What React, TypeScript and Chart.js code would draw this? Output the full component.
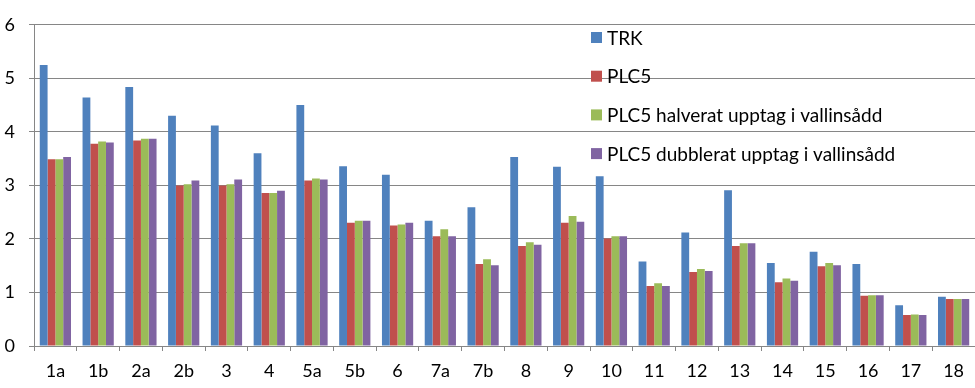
import React, { useEffect, useRef } from "react";
import { Chart, registerables } from "chart.js";

Chart.register(...registerables);

const categories = ["1a", "1b", "2a", "2b", "3", "4", "5a", "5b", "6", "7a", "7b", "8", "9", "10", "11", "12", "13", "14", "15", "16", "17", "18"];
const trk = [5.25, 4.64, 4.84, 4.3, 4.12, 3.6, 4.5, 3.36, 3.2, 2.34, 2.59, 3.53, 3.35, 3.17, 1.58, 2.12, 2.91, 1.55, 1.76, 1.53, 0.76, 0.92];
const plc5 = [3.49, 3.78, 3.84, 3.0, 3.0, 2.86, 3.09, 2.3, 2.25, 2.05, 1.53, 1.87, 2.3, 2.01, 1.12, 1.38, 1.87, 1.19, 1.49, 0.94, 0.58, 0.88];
const plc5Half = [3.49, 3.82, 3.87, 3.02, 3.02, 2.86, 3.13, 2.34, 2.27, 2.18, 1.62, 1.94, 2.43, 2.05, 1.17, 1.44, 1.92, 1.26, 1.55, 0.95, 0.59, 0.88];
const plc5Double = [3.53, 3.8, 3.87, 3.09, 3.11, 2.9, 3.11, 2.34, 2.3, 2.05, 1.51, 1.89, 2.32, 2.05, 1.12, 1.4, 1.92, 1.22, 1.51, 0.95, 0.58, 0.88];
const seriesLabels = ["TRK", "PLC5", "PLC5 halverat upptag i vallinsådd", "PLC5 dubblerat upptag i vallinsådd"];
const seriesColors = ["#4F81BD", "#C0504D", "#9BBB59", "#8064A2"];
const yMin = 0;
const yMax = 6;
const yStep = 1;

const FONT = "Lato, 'Open Sans', sans-serif";

const insideLegend = {
  id: "insideLegend",
  afterDraw(chart: any) {
    const ctx = chart.ctx;
    ctx.save();
    ctx.font = `19px ${FONT}`;
    ctx.textBaseline = "middle";
    ctx.textAlign = "left";
    chart.data.datasets.forEach((ds: any, i: number) => {
      const y = 37.5 + i * 38.7;
      ctx.fillStyle = ds.backgroundColor;
      ctx.fillRect(591, y - 5.5, 11, 11);
      ctx.fillStyle = "#000";
      ctx.fillText(ds.label, 607, y + 1);
    });
    ctx.restore();
  },
};

export default function App() {
  const ref = useRef<HTMLCanvasElement | null>(null);

  useEffect(() => {
    if (!ref.current) return;
    const series = [trk, plc5, plc5Half, plc5Double];
    const chart = new Chart(ref.current, {
      type: "bar",
      data: {
        labels: categories,
        datasets: series.map((d, i) => ({
          label: seriesLabels[i],
          data: d,
          backgroundColor: seriesColors[i],
          borderWidth: 0,
          barPercentage: 1,
          categoryPercentage: 0.73,
        })),
      },
      options: {
        responsive: false,
        animation: false,
        layout: { padding: { top: 12, right: 0, left: 0, bottom: 0 } },
        plugins: {
          legend: { display: false },
          tooltip: { enabled: false },
        },
        scales: {
          x: {
            afterFit: (s: any) => {
              s.height = 42;
            },
            grid: {
              offset: true,
              drawOnChartArea: false,
              drawTicks: true,
              tickLength: 5,
              color: "#868686",
            },
            border: { display: true, color: "#868686" },
            ticks: {
              color: "#000",
              font: { family: FONT, size: 18 },
              padding: 9,
              maxRotation: 0,
              autoSkip: false,
            },
          },
          y: {
            min: yMin,
            max: yMax,
            afterFit: (s: any) => {
              s.width = 34;
            },
            grid: {
              color: "#868686",
              tickLength: 5,
            },
            border: { display: true, color: "#868686" },
            ticks: {
              stepSize: yStep,
              color: "#000",
              font: { family: FONT, size: 18 },
              padding: 14,
            },
          },
        },
      },
      plugins: [insideLegend],
    });
    return () => chart.destroy();
  }, []);

  return (
    <div style={{ position: "absolute", left: 0, top: 0, width: 975, height: 388, background: "#fff" }}>
      <canvas ref={ref} width={975} height={388} style={{ display: "block" }} />
    </div>
  );
}
